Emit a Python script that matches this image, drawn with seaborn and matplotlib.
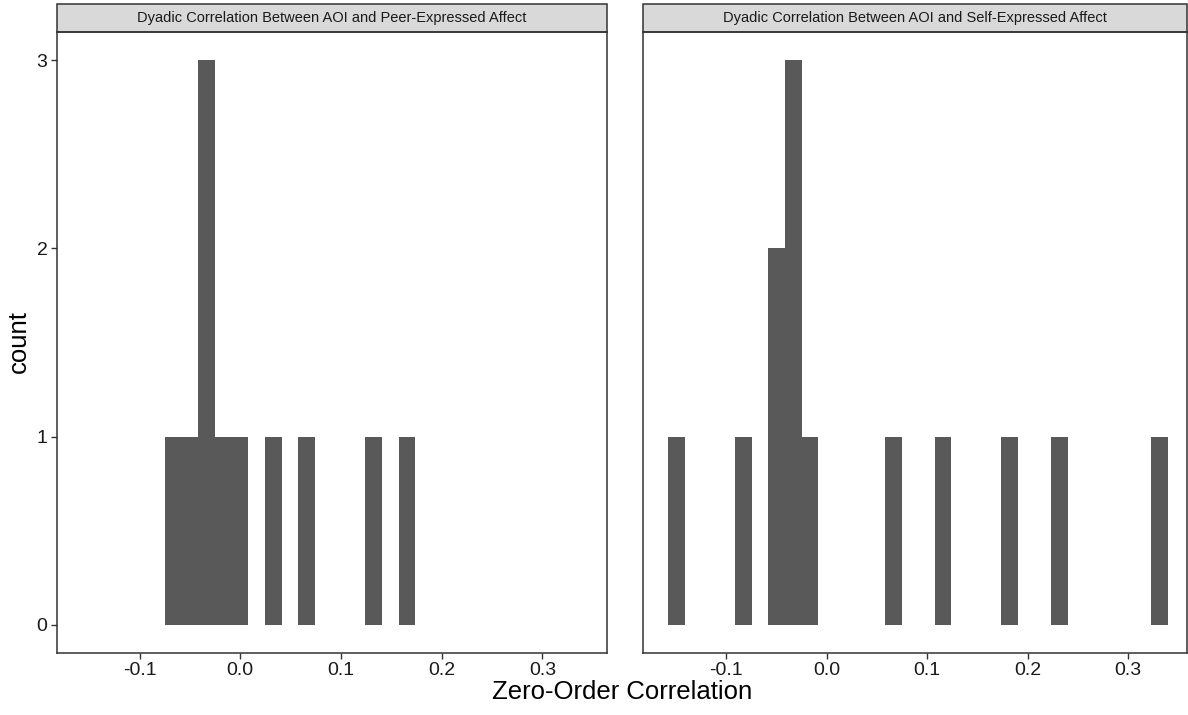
import numpy as np
import pandas as pd
import matplotlib
matplotlib.use("Agg")
import matplotlib.pyplot as plt
from matplotlib.patches import Rectangle
import seaborn as sns

# ---- data ----
panel_titles = ["Dyadic Correlation Between AOI and Peer-Expressed Affect",
                "Dyadic Correlation Between AOI and Self-Expressed Affect"]
peer_corr = [-0.064, -0.049, -0.036, -0.033, -0.030, -0.018, 0.002,
             0.031, 0.064, 0.131, 0.168]
self_corr = [-0.1495, -0.082, -0.052, -0.047, -0.035, -0.032, -0.029,
             -0.015, 0.068, 0.117, 0.181, 0.230, 0.3314]
x_ticks = [-0.1, 0.0, 0.1, 0.2, 0.3]
x_ticklabels = ["-0.1", "0.0", "0.1", "0.2", "0.3"]
y_ticks = [0, 1, 2, 3]
n_bins = 30

df = pd.DataFrame({
    "facet": [panel_titles[0]] * len(peer_corr) + [panel_titles[1]] * len(self_corr),
    "r": peer_corr + self_corr,
})

# ggplot-style bins: 30 bins whose outer bins are centred on data min/max
lo, hi = df["r"].min(), df["r"].max()
w = (hi - lo) / (n_bins - 1)
binrange = (lo - w / 2, hi + w / 2)

sns.set_theme(style="white")
plt.rcParams["font.family"] = ["Liberation Sans", "DejaVu Sans"]

W, H = 1188, 715
fig = plt.figure(figsize=(W / 100, H / 100), dpi=100)

panel_px = [(57.3, 606.7, (-0.1817, 0.3638)), (643.3, 1187.0, (-0.1827, 0.3586))]
top_px, bot_px = 32.3, 652.7
strip_top_px = 4.3
dark = "#333333"

for (x0, x1, xl), title in zip(panel_px, panel_titles):
    ax = fig.add_axes([x0 / W, (H - bot_px) / H, (x1 - x0) / W, (bot_px - top_px) / H])
    sub = df[df["facet"] == title]
    sns.histplot(data=sub, x="r", bins=n_bins, binrange=binrange, ax=ax,
                 color="#595959", alpha=1, edgecolor="none", linewidth=0)
    ax.set_xlim(*xl)
    ax.set_ylim(-0.15, 3.15)
    ax.set_xticks(x_ticks)
    ax.set_xticklabels(x_ticklabels)
    ax.set_yticks(y_ticks)
    ax.set_xlabel("")
    ax.set_ylabel("")
    for s in ax.spines.values():
        s.set_color(dark)
        s.set_linewidth(1.1)
        s.set_visible(True)
    ax.tick_params(axis="both", which="both", direction="out", length=4, width=1.0,
                   color=dark, labelsize=14, labelcolor="#1a1a1a", pad=3,
                   bottom=True, left=True)
    if x0 > 600:
        ax.tick_params(axis="y", left=False, labelleft=False)
    ax.grid(False)
    # strip
    sh = (top_px - strip_top_px) / (bot_px - top_px)
    rect = Rectangle((0, 1), 1, sh, transform=ax.transAxes, clip_on=False,
                     facecolor="#d9d9d9", edgecolor=dark, linewidth=1.1)
    ax.add_patch(rect)
    ax.text(0.5, 1 + sh / 2, title, transform=ax.transAxes, ha="center", va="center",
            fontsize=10.5, color="#1a1a1a")

fig.text(622 / W, 1 - 692 / H, "Zero-Order Correlation", ha="center", va="center",
         fontsize=18.5, color="black")
fig.text(19 / W, 1 - 342 / H, "count", ha="center", va="center", rotation=90,
         fontsize=18.5, color="black")

fig.savefig("out.png", dpi=100)
